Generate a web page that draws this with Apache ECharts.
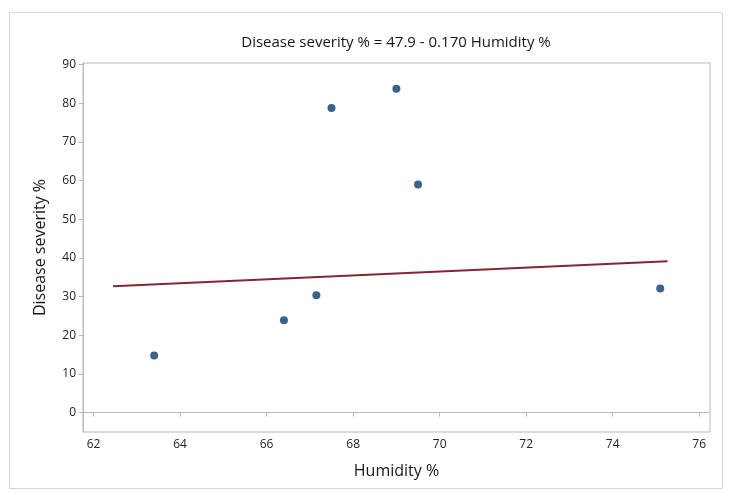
<!DOCTYPE html>
<html>
<head>
<meta charset="utf-8">
<script src="https://cdn.jsdelivr.net/npm/echarts@6/dist/echarts.min.js"></script>
<style>
  html, body { margin: 0; padding: 0; background: #fff; }
  #main { width: 731px; height: 493px; }
</style>
</head>
<body>
<div id="main"></div>
<script>
// observed points (Humidity %, Disease severity %)
const humidity = [63.4, 66.4, 67.15, 67.5, 69.0, 69.5, 75.1];
const severity = [14.8, 23.9, 30.4, 78.8, 83.8, 59.0, 32.1];

// fitted line ends as drawn
const fitX = [62.45, 75.27];
const fitY = [32.7, 39.2];

const xTicks = [62, 64, 66, 68, 70, 72, 74, 76];
const yTicks = [0, 10, 20, 30, 40, 50, 60, 70, 80, 90];

const font = '"Open Sans", "Noto Sans", sans-serif';
const chart = echarts.init(document.getElementById('main'));

var option = {
  backgroundColor: '#fff',
  animation: false,
  title: {
    text: 'Disease severity % = 47.9 - 0.170 Humidity %',
    left: 391,
    textAlign: 'center',
    top: 30,
    textStyle: { color: '#161616', fontSize: 15, fontWeight: 'normal', fontFamily: font }
  },
  graphic: [{
    type: 'rect',
    shape: { x: 9.5, y: 12.5, width: 713, height: 476 },
    style: { fill: 'none', stroke: '#d6d6d6', lineWidth: 1 },
    silent: true
  }],
  grid: {
    left: 83, right: 21, top: 63, bottom: 61,
    show: true,
    borderColor: '#b8b8b8',
    borderWidth: 1
  },
  xAxis: {
    type: 'value',
    min: 61.755,
    max: 76.25,
    name: 'Humidity %',
    nameLocation: 'middle',
    nameGap: 31,
    nameTextStyle: { color: '#161616', fontSize: 16, fontFamily: font },
    axisLine: { show: true, lineStyle: { color: '#b8b8b8' } },
    axisTick: { show: true, length: 4, customValues: xTicks, lineStyle: { color: '#b8b8b8' } },
    axisLabel: { customValues: xTicks, color: '#222', fontSize: 12, margin: 7, fontFamily: font },
    splitLine: { show: false }
  },
  yAxis: {
    type: 'value',
    min: -5,
    max: 90.45,
    name: 'Disease severity %',
    nameLocation: 'middle',
    nameGap: 35,
    nameTextStyle: { color: '#161616', fontSize: 16, fontFamily: font },
    axisLine: { show: true, lineStyle: { color: '#b8b8b8' } },
    axisTick: { show: true, length: 4, customValues: yTicks, lineStyle: { color: '#b8b8b8' } },
    axisLabel: { customValues: yTicks, color: '#222', fontSize: 12, margin: 7, fontFamily: font },
    splitLine: { show: false }
  },
  series: [{
    name: 'Fit',
    type: 'line',
    data: fitX.map((x, i) => [x, fitY[i]]),
    symbol: 'none',
    lineStyle: { color: '#862634', width: 2 },
    z: 2
  }, {
    name: 'Observed',
    type: 'scatter',
    data: humidity.map((x, i) => [x, severity[i]]),
    symbolSize: 8,
    itemStyle: { color: '#0d3b6c' },
    z: 3
  }]
};

chart.setOption(option);
</script>
</body>
</html>
